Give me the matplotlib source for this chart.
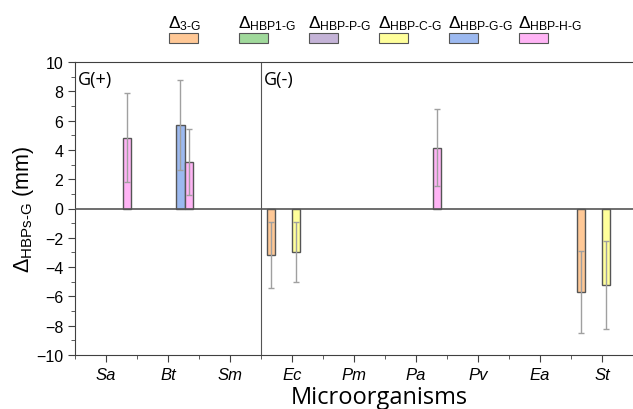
import matplotlib
matplotlib.use('Agg')
import matplotlib.pyplot as plt
from matplotlib.patches import Rectangle
from matplotlib.ticker import MultipleLocator
import numpy as np

plt.rcParams['font.family'] = 'Liberation Sans'
plt.rcParams['mathtext.fontset'] = 'custom'
plt.rcParams['mathtext.rm'] = 'Liberation Sans'
plt.rcParams['mathtext.it'] = 'Liberation Sans:italic'

categories = ['Sa', 'Bt', 'Sm', 'Ec', 'Pm', 'Pa', 'Pv', 'Ea', 'St']
nan = np.nan
d_3g = [nan, nan, nan, -3.16, nan, nan, nan, nan, -5.68]
d_3g_err = [nan, nan, nan, 2.24, nan, nan, nan, nan, 2.8]
d_hbp1 = [nan] * 9
d_hbp1_err = [nan] * 9
d_hbpp = [nan] * 9
d_hbpp_err = [nan] * 9
d_hbpc = [nan, nan, nan, -2.97, nan, nan, nan, nan, -5.2]
d_hbpc_err = [nan, nan, nan, 2.03, nan, nan, nan, nan, 3.0]
d_hbpg = [nan, 5.7, nan, nan, nan, nan, nan, nan, nan]
d_hbpg_err = [nan, 3.04, nan, nan, nan, nan, nan, nan, nan]
d_hbph = [4.84, 3.18, nan, nan, nan, 4.16, nan, nan, nan]
d_hbph_err = [3.05, 2.26, nan, nan, nan, 2.6, nan, nan, nan]

labels = [r'$\Delta_{\mathrm{3\text{-}G}}$', r'$\Delta_{\mathrm{HBP1\text{-}G}}$',
          r'$\Delta_{\mathrm{HBP\text{-}P\text{-}G}}$', r'$\Delta_{\mathrm{HBP\text{-}C\text{-}G}}$',
          r'$\Delta_{\mathrm{HBP\text{-}G\text{-}G}}$', r'$\Delta_{\mathrm{HBP\text{-}H\text{-}G}}$']
colors = ['#FFC896', '#A0D99B', '#C4B3D7', '#FFFF9B', '#9CB9F0', '#FFB4F5']
series = [d_3g, d_hbp1, d_hbpp, d_hbpc, d_hbpg, d_hbph]
errors = [d_3g_err, d_hbp1_err, d_hbpp_err, d_hbpc_err, d_hbpg_err, d_hbph_err]

fig = plt.figure(figsize=(6.33, 4.10), dpi=100)
ax = fig.add_axes([75/633, 1-356/410, 558/633, 293/410])

x = np.arange(1, len(categories) + 1)
w = 0.134
for i, (vals, errs) in enumerate(zip(series, errors)):
    xpos = x - 0.335 + i * w
    ax.bar(xpos, vals, width=w, color=colors[i], edgecolor='#555555', linewidth=1, zorder=2)
    ax.errorbar(xpos, vals, yerr=errs, fmt='none', ecolor='#a0a0a0', elinewidth=1,
                capsize=2.2, capthick=1, zorder=3)

ax.axhline(0, color='#555555', linewidth=1.2, zorder=4)
ax.axvline(3.5, color='#555555', linewidth=0.8, zorder=1)

ax.set_xlim(0.5, 9.5)
ax.set_ylim(-10, 10)
ax.set_xticks(x)
ax.set_xticklabels(categories, fontstyle='italic', fontsize=12)
ax.xaxis.set_minor_locator(MultipleLocator(0.5))
ax.yaxis.set_major_locator(MultipleLocator(2))
ax.yaxis.set_minor_locator(MultipleLocator(1))
ax.tick_params(axis='both', which='major', length=5, color='#404040', labelsize=11.5)
ax.tick_params(axis='x', which='major', labelsize=12)
ax.tick_params(axis='both', which='minor', length=3, color='#404040')
ax.spines['right'].set_visible(False)
for s in ['left', 'top', 'bottom']:
    ax.spines[s].set_color('#404040')

ax.set_ylabel(r'$\Delta_{\mathrm{HBPs\text{-}G}}$ (mm)', fontsize=15.5)
ax.yaxis.set_label_coords(-(75 - 36)/558, 0.5)
ax.set_xlabel('Microorganisms', fontsize=17, family='Open Sans')
ax.xaxis.set_label_coords((379 - 75)/558, -(398 - 356)/293)
ax.xaxis.label.set_va('center')

ax.text(0.55, 9.45, 'G(+)', fontsize=13, family='Open Sans', va='top')
ax.text(3.55, 9.45, 'G(-)', fontsize=13, family='Open Sans', va='top')

# legend above the plot: label on top, swatch below
for i, (lab, col) in enumerate(zip(labels, colors)):
    x0 = 169 + i * 70
    fig.add_artist(Rectangle((x0/633, 1-44/410), 29/633, 10/410, transform=fig.transFigure,
                             facecolor=col, edgecolor='#555555', linewidth=0.8))
    fig.text((x0 - 1)/633, 1-28/410, lab, fontsize=12.5, ha='left', va='baseline')

fig.savefig('out.png', dpi=100)
